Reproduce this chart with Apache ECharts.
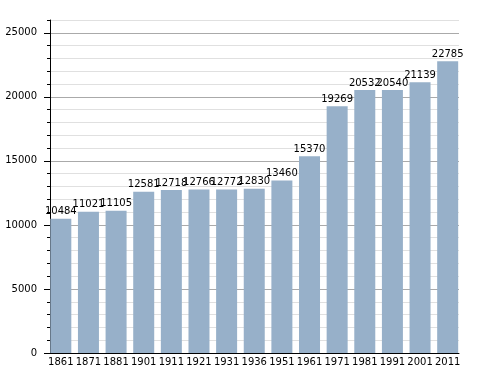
<!DOCTYPE html>
<html><head><meta charset="utf-8">
<script src="https://cdn.jsdelivr.net/npm/echarts@6/dist/echarts.min.js"></script>
<style>html,body{margin:0;padding:0;background:#fff}#c{width:488px;height:373px}</style>
</head><body><div id="c"></div>
<script>
const years = ['1861','1871','1881','1901','1911','1921','1931','1936','1951','1961','1971','1981','1991','2001','2011'];
const population = [10484,11021,11105,12581,12718,12766,12772,12830,13460,15370,19269,20532,20540,21139,22785];
const yTicks = [0,5000,10000,15000,20000,25000];
const yMax = 26000;
const minorStep = 1000;

const font = 'DejaVu Sans';
const chart = echarts.init(document.getElementById('c'), null, {renderer:'canvas'});
chart.setOption({
  animation:false,
  backgroundColor:'#fff',
  grid:[
    {left:50, right:29, top:20, bottom:20},
    {left:47, right:26.5, top:20, bottom:20}
  ],
  xAxis:[
    {type:'category', gridIndex:0, data:years, axisLine:{show:true, lineStyle:{color:'#000', width:1}},
     axisTick:{show:false}, axisLabel:{show:false}, splitLine:{show:false}},
    {type:'category', gridIndex:1, data:years, axisLine:{show:false}, axisTick:{show:false},
     axisLabel:{show:true, color:'#000', fontFamily:font, fontSize:10, margin:4, interval:0}}
  ],
  yAxis:[
    {type:'value', gridIndex:0, min:0, max:yMax, interval:minorStep,
     axisLine:{show:true, lineStyle:{color:'#000', width:1}},
     axisTick:{show:true, length:3, lineStyle:{color:'#000'}},
     axisLabel:{show:false},
     splitLine:{show:true, lineStyle:{color:['#aaaaaa','#e0e0e0','#e0e0e0','#e0e0e0','#e0e0e0'], width:1}}},
    {type:'value', gridIndex:0, min:0, max:yMax, position:'left',
     axisLine:{show:false},
     axisTick:{show:true, length:6, lineStyle:{color:'#000'}, customValues:yTicks},
     axisLabel:{show:true, color:'#000', fontFamily:font, fontSize:10, margin:13, customValues:yTicks,
       padding:[3,0,0,0], formatter:function(v){return String(v);}},
     splitLine:{show:false}},
    {type:'value', gridIndex:1, min:0, max:yMax, show:false}
  ],
  series:[{
    type:'bar', xAxisIndex:1, yAxisIndex:2, data:population, barWidth:21,
    itemStyle:{color:'#97b0c9'},
    label:{show:true, position:'top', distance:2, color:'#000', fontFamily:font, fontSize:10}
  }]
});
</script></body></html>
